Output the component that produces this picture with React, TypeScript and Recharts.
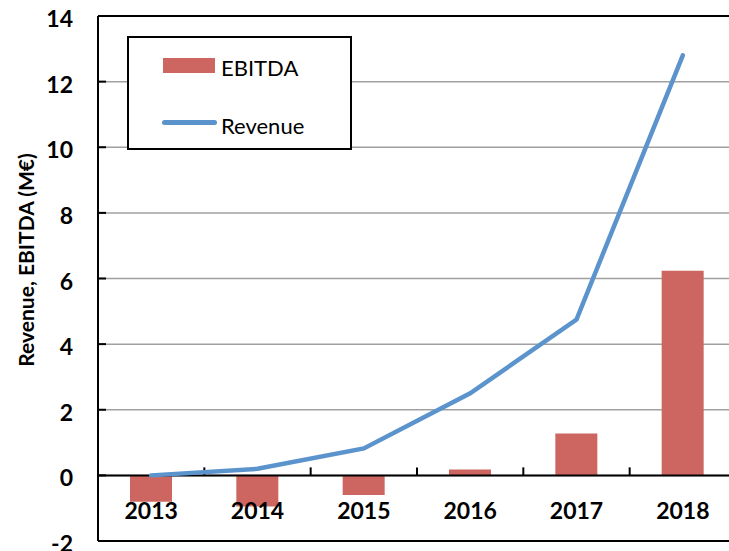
import {
  ComposedChart,
  Bar,
  Line,
  XAxis,
  YAxis,
  CartesianGrid,
  ReferenceLine,
} from "recharts";

const years = ["2013", "2014", "2015", "2016", "2017", "2018"];
const ebitda = [-0.8, -0.95, -0.6, 0.18, 1.28, 6.24];
const revenue = [0, 0.2, 0.82, 2.5, 4.75, 12.8];
const yTicks = [-2, 0, 2, 4, 6, 8, 10, 12, 14];

const data = years.map((year, i) => ({
  year,
  ebitda: ebitda[i],
  revenue: revenue[i],
}));

const FONT = "Lato, 'Open Sans', sans-serif";
const BAR_COLOR = "#cd6660";
const LINE_COLOR = "#5b93cd";

const YearTick = ({ x, y, payload }: any) => (
  <text
    x={x}
    y={y - 30}
    textAnchor="middle"
    fontFamily={FONT}
    fontWeight={700}
    fontSize={23}
    fill="#000"
  >
    {payload.value}
  </text>
);

const ValueTick = ({ x, y, payload }: any) => (
  <text
    x={x}
    y={y + 11}
    textAnchor="end"
    fontFamily={FONT}
    fontWeight={700}
    fontSize={23}
    fill="#000"
  >
    {payload.value}
  </text>
);

// zero line with small tick marks at the category boundaries
const ZeroAxis = ({ x1, y1, x2 }: any) => {
  const step = (x2 - x1) / years.length;
  return (
    <g>
      <line x1={x1} y1={y1} x2={x2} y2={y1} stroke="#000" strokeWidth={2} />
      {years.slice(1).map((_, i) => (
        <line
          key={i}
          x1={x1 + step * (i + 1)}
          x2={x1 + step * (i + 1)}
          y1={y1 - 8}
          y2={y1}
          stroke="#000"
          strokeWidth={2}
        />
      ))}
    </g>
  );
};

const LegendBox = () => (
  <div
    style={{
      position: "absolute",
      left: 127,
      top: 36,
      width: 225,
      height: 114,
      border: "2px solid #000",
      background: "#fff",
      boxSizing: "border-box",
      fontFamily: FONT,
      fontSize: 22,
      lineHeight: "22px",
      color: "#000",
    }}
  >
    <div style={{ position: "absolute", left: 34, top: 20, width: 52, height: 15, background: BAR_COLOR }} />
    <div style={{ position: "absolute", left: 92, top: 19 }}>EBITDA</div>
    <div
      style={{
        position: "absolute",
        left: 33,
        top: 82,
        width: 55,
        height: 5,
        borderRadius: 3,
        background: LINE_COLOR,
      }}
    />
    <div style={{ position: "absolute", left: 92, top: 77 }}>Revenue</div>
  </div>
);

const YLabel = () => {
  const cx = 25;
  const cy = 260;
  return (
    <text
      x={cx}
      y={cy}
      transform={`rotate(-90, ${cx}, ${cy})`}
      textAnchor="middle"
      dominantBaseline="central"
      fontFamily={FONT}
      fontWeight={700}
      fontSize={21}
      fill="#000"
    >
      Revenue, EBITDA (M€)
    </text>
  );
};

export default function App() {
  return (
    <div style={{ position: "relative", width: 729, height: 551, overflow: "hidden" }}>
      <style>{"body { margin: 0; overflow: hidden; }"}</style>
      <ComposedChart
        width={760}
        height={551}
        data={data}
        margin={{ top: 16, right: 24, left: 8, bottom: 0 }}
        barSize={42}
      >
        <CartesianGrid horizontal vertical={false} stroke="#a0a0a0" strokeWidth={1.5} />
        <XAxis
          dataKey="year"
          height={10}
          tick={<YearTick />}
          tickLine={false}
          axisLine={{ stroke: "#000", strokeWidth: 2 }}
          interval={0}
        />
        <YAxis
          width={90}
          domain={[-2, 14]}
          ticks={yTicks}
          interval={0}
          allowDataOverflow
          tickSize={-8}
          tickMargin={33}
          tickLine={{ stroke: "#000", strokeWidth: 2 }}
          axisLine={{ stroke: "#000", strokeWidth: 2 }}
          tick={<ValueTick />}
          label={<YLabel />}
        />
        <ReferenceLine y={14} stroke="#000" strokeWidth={2} />
        <Bar dataKey="ebitda" name="EBITDA" fill={BAR_COLOR} isAnimationActive={false} />
        <ReferenceLine y={0} shape={<ZeroAxis />} />
        <Line
          dataKey="revenue"
          name="Revenue"
          type="linear"
          stroke={LINE_COLOR}
          strokeWidth={4.5}
          strokeLinecap="round"
          dot={false}
          isAnimationActive={false}
        />
      </ComposedChart>
      <LegendBox />
    </div>
  );
}
